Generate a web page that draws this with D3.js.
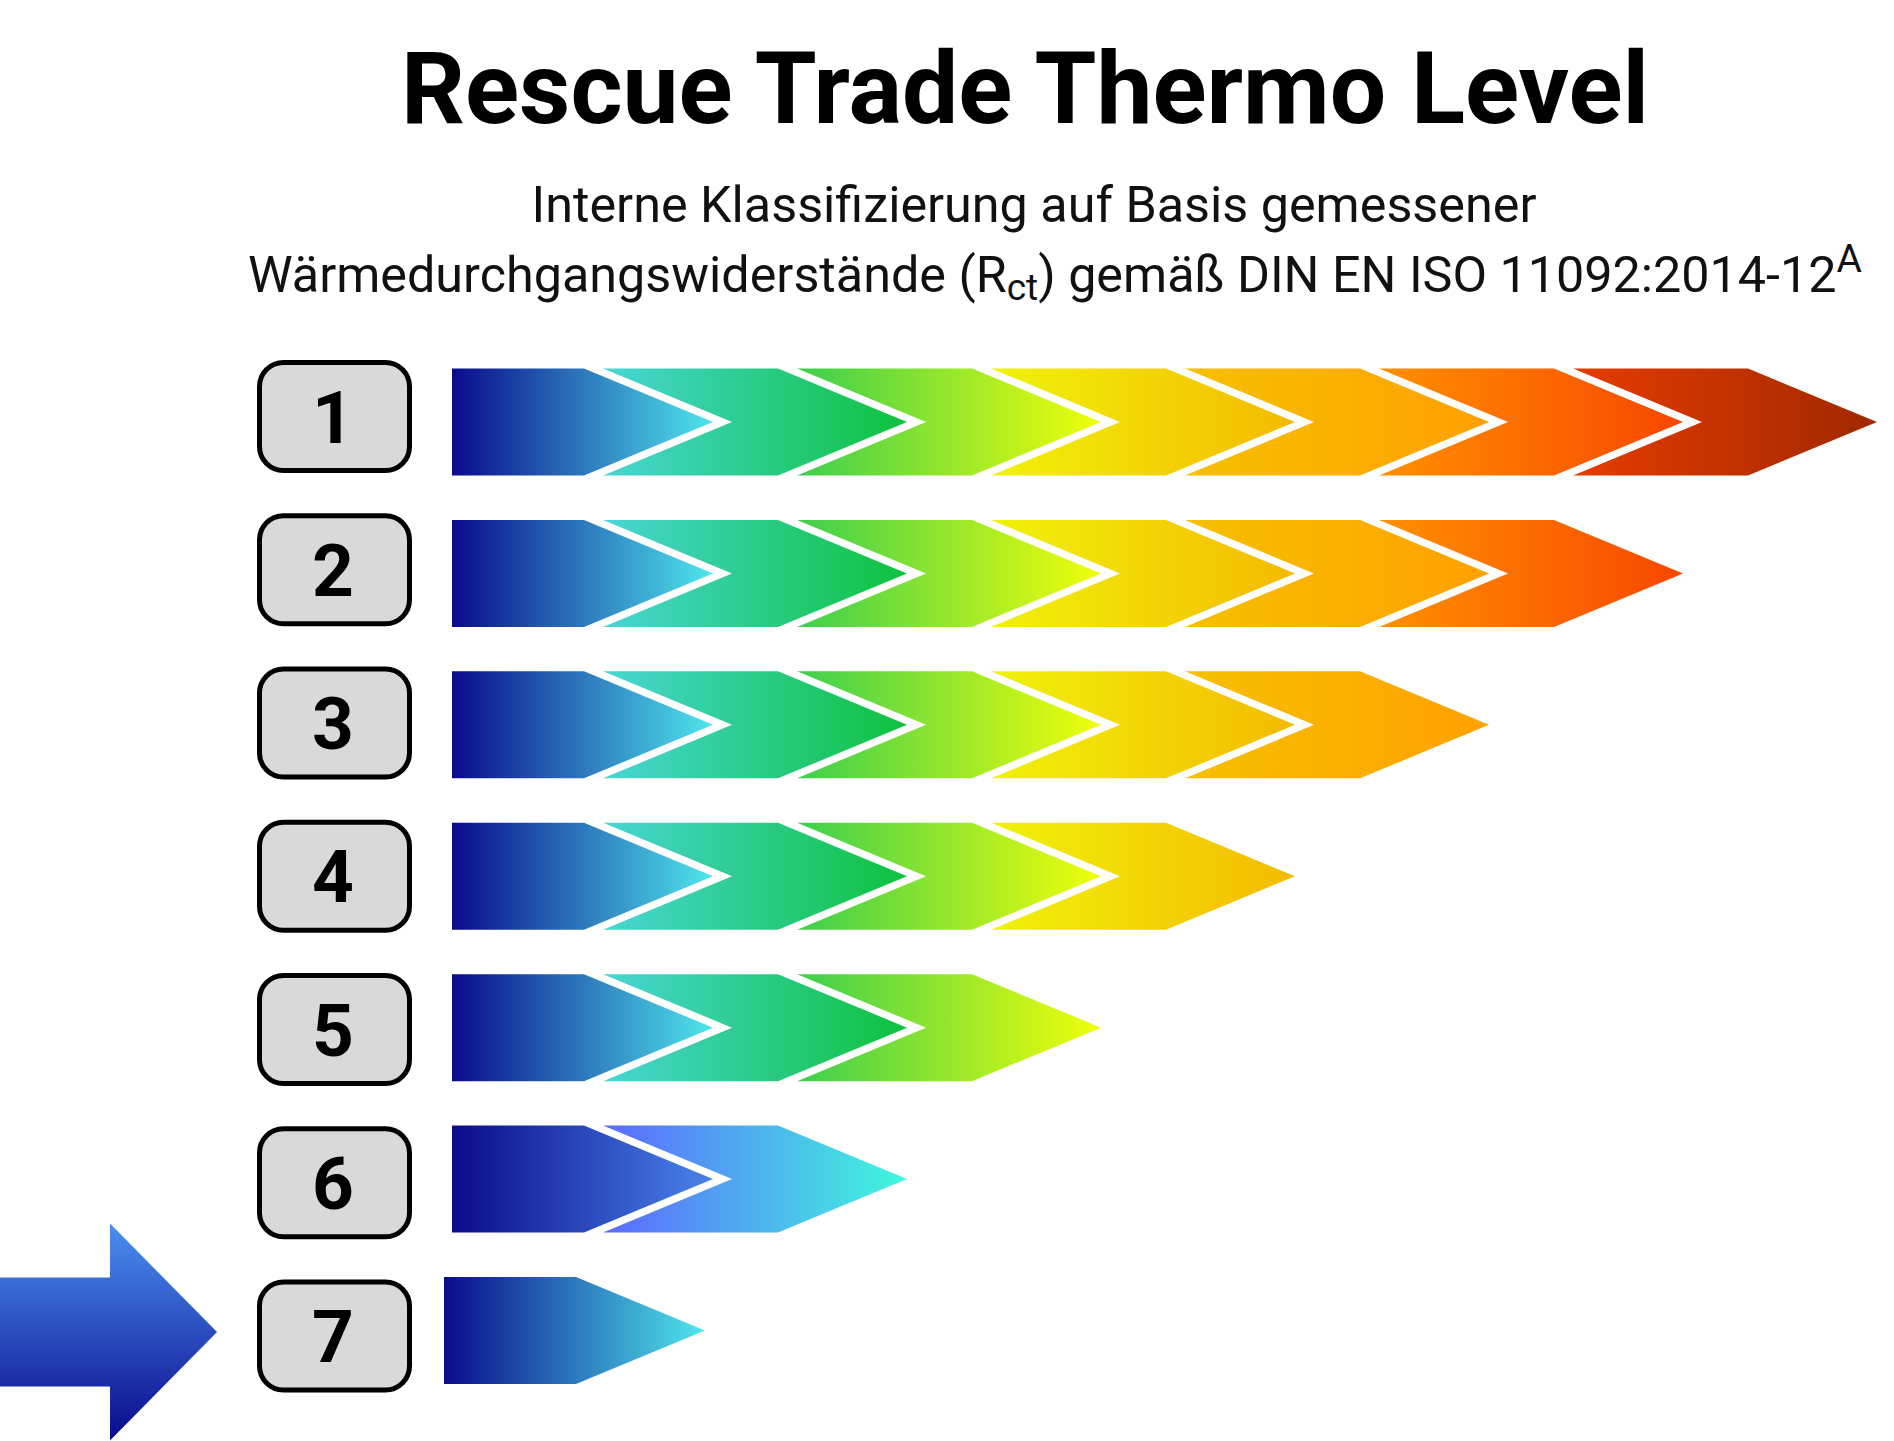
<!DOCTYPE html>
<html>
<head>
<meta charset="utf-8">
<script src="https://cdn.jsdelivr.net/npm/d3@7"></script>
<style>
  html, body { margin: 0; padding: 0; background: #ffffff; }
  svg { display: block; }
  text { font-family: Roboto, "Noto Sans", sans-serif; }
</style>
</head>
<body>
<svg id="chart" width="1894" height="1441"></svg>
<script>
// ---------------- data ----------------
const titleText = "Rescue Trade Thermo Level";
const subtitleLine1 = "Interne Klassifizierung auf Basis gemessener";
const levels = ["1", "2", "3", "4", "5", "6", "7"];
const segmentCounts = [7, 6, 5, 4, 3, 2, 1];
const segmentGradients = [
  ["#0a0a8c", "#50e6ec"],
  ["#48d6d6", "#0ec23c"],
  ["#3ccf4e", "#f0ff0a"],
  ["#f0f20a", "#f4ba00"],
  ["#f6c000", "#ffa000"],
  ["#ff9000", "#f84600"],
  ["#e63c00", "#a02800"]
];
const level6Gradients = [
  ["#0a0a8c", "#4a84ea"],
  ["#5c68ff", "#40f8dc"]
];
const pointerGradient = ["#4a90f0", "#0a0a8c"];
const highlightedLevel = "7";

// ---------------- layout ----------------
const svg = d3.select("#chart");
const defs = svg.append("defs");

const rowY = d3.scalePoint().domain(levels).range([416.5, 1336]);   // level boxes
const barY = d3.scalePoint().domain(levels).range([422, 1330.5]);   // arrow bars
const xB = d3.scaleLinear().domain([0, 7]).range([390, 390 + 7 * 194]);
const barStart = 452;
const gapX = 19;
const tipDepth = 129;
const barH = 107;
const rowShift = { "7": -8 };

// ---------------- title ----------------
svg.append("text")
  .attr("x", 1025).attr("y", 123)
  .attr("text-anchor", "middle")
  .attr("font-size", 100).attr("font-weight", 700)
  .attr("fill", "#000")
  .text(titleText);

svg.append("text")
  .attr("x", 1034).attr("y", 222)
  .attr("text-anchor", "middle")
  .attr("font-size", 50.3)
  .attr("fill", "#111")
  .text(subtitleLine1);

const line2 = svg.append("text")
  .attr("x", 1055).attr("y", 292)
  .attr("text-anchor", "middle")
  .attr("font-size", 50.3)
  .attr("fill", "#111");
line2.append("tspan").text("Wärmedurchgangswiderstände (R");
line2.append("tspan").attr("font-size", 37).attr("dy", 8).text("ct");
line2.append("tspan").attr("dy", -8).text(") gemäß DIN EN ISO 11092:2014-12");
line2.append("tspan").attr("font-size", 39).attr("dy", -20).text("A");

// ---------------- gradients ----------------
function makeGrad(id, stops, vertical) {
  const g = defs.append("linearGradient").attr("id", id)
    .attr("x1", 0).attr("y1", 0)
    .attr("x2", vertical ? 0 : 1).attr("y2", vertical ? 1 : 0);
  g.append("stop").attr("offset", "0%").attr("stop-color", stops[0]);
  g.append("stop").attr("offset", "100%").attr("stop-color", stops[1]);
}
segmentGradients.forEach((s, i) => makeGrad("seg" + i, s, false));
level6Gradients.forEach((s, i) => makeGrad("l6seg" + i, s, false));
makeGrad("pointer", pointerGradient, true);

// ---------------- bars ----------------
const segData = [];
levels.forEach((lvl, r) => {
  for (let k = 0; k < segmentCounts[r]; k++) segData.push({ level: lvl, k: k });
});

function segPoints(d) {
  const dx = rowShift[d.level] || 0;
  const cy = barY(d.level);
  const top = cy - barH / 2, bot = cy + barH / 2;
  const F = xB(d.k + 1) + dx;
  const pts = [];
  if (d.k === 0) {
    const L = barStart + dx;
    pts.push([L, top], [F, top], [F + tipDepth, cy], [F, bot], [L, bot]);
  } else {
    const L = xB(d.k) + gapX + dx;
    pts.push([L, top], [F, top], [F + tipDepth, cy], [F, bot], [L, bot], [L + tipDepth, cy]);
  }
  return pts.map(p => p.join(",")).join(" ");
}

svg.append("g").selectAll("polygon.seg")
  .data(segData).join("polygon")
  .attr("class", "seg")
  .attr("points", segPoints)
  .attr("fill", d => d.level === "6" ? `url(#l6seg${d.k})` : `url(#seg${d.k})`);

// ---------------- level boxes ----------------
const boxW = 150, boxH = 108;
const boxes = svg.append("g").selectAll("g.box").data(levels).join("g").attr("class", "box");
boxes.append("rect")
  .attr("x", 334.5 - boxW / 2)
  .attr("y", d => rowY(d) - boxH / 2)
  .attr("width", boxW).attr("height", boxH)
  .attr("rx", 24).attr("ry", 24)
  .attr("fill", "#d9d9d9")
  .attr("stroke", "#000").attr("stroke-width", 5);
boxes.append("text")
  .attr("x", 333)
  .attr("y", d => rowY(d) + 26)
  .attr("text-anchor", "middle")
  .attr("font-size", 73).attr("font-weight", 700)
  .attr("fill", "#000")
  .text(d => d);

// ---------------- pointer arrow ----------------
const pc = rowY(highlightedLevel) - 4;
const arrowPts = [
  [0, pc - 54.5], [110, pc - 54.5], [110, pc - 108.5], [217, pc],
  [110, pc + 108.5], [110, pc + 54.5], [0, pc + 54.5]
];
svg.append("polygon")
  .attr("points", arrowPts.map(p => p.join(",")).join(" "))
  .attr("fill", "url(#pointer)");
</script>
</body>
</html>
